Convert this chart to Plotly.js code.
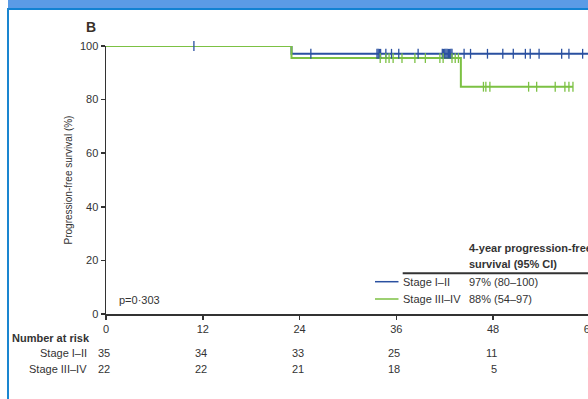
<!DOCTYPE html>
<html><head><meta charset="utf-8">
<script src="https://cdn.plot.ly/plotly-3.0.1.min.js"></script>
<style>
html,body{margin:0;padding:0;overflow:hidden;background:#fff;width:588px;height:399px;}
#chart{position:absolute;left:0;top:0;}
.band{position:absolute;left:8px;top:0;width:600px;height:8px;background:#5b9be6;border-bottom:2px solid #1282d2;}
.vline{position:absolute;left:7px;top:8px;width:2px;height:400px;background:#1a86d0;}
</style></head><body>
<div id="chart"></div>
<div class="band"></div><div class="vline"></div>
<script>
// Kaplan-Meier step data (months, % progression-free)
const blueT = [0, 23.0, 64];
const blueS = [100, 97.1, 97.1];
const greenT = [0, 23.0, 44.0, 57.9];
const greenS = [100, 95.5, 84.8, 84.8];
// censoring times
const blueCens = [10.9, 25.4, 33.6, 33.75, 33.9, 34.05, 34.7, 35.4, 36.3, 38.7,
  41.7, 41.85, 42.0, 42.15, 42.3, 42.45, 42.6, 42.75, 42.9, 44.4, 45.2, 47.3,
  49.2, 50.5, 52.0, 52.6, 53.7, 56.5, 57.4, 59.1];
const greenCens = [34.0, 34.7, 35.1, 35.6, 36.7, 38.3, 39.6, 41.4, 41.8, 42.9, 43.3, 43.7,
  46.8, 47.1, 47.6, 52.4, 53.4, 55.7, 56.9, 57.4, 57.9];
// axis ticks
const xTicks = [0, 12, 24, 36, 48, 60];
const yTicks = [0, 20, 40, 60, 80, 100];
// number at risk
const riskTimes = [0, 12, 24, 36, 48, 60];
const riskStageI = [35, 34, 33, 25, 11, 0];
const riskStageIII = [22, 22, 21, 18, 5, 0];
// legend table
const groups = ['Stage I–II', 'Stage III–IV'];
const pfs4y = ['97% (80–100)', '88% (54–97)'];
const pValue = 'p=0·303';

const BLUE = '#2a50a0', GREEN = '#7cc143', TXT = '#333333', AX = '#333333';
const FONT = 'Liberation Sans, Arial, sans-serif';

function survAt(T, S, t) { let v = S[0]; for (let i = 0; i < T.length; i++) { if (T[i] <= t) v = S[i]; } return v; }

const W = 640, H = 399, ML = 106, MT = 46, MB = 85;
const PW = W - ML, PH = H - MT - MB;
const px2x = p => (p - ML) / PW;
const px2y = p => (H - MB - p) / PH;

const traces = [
  {x: blueT, y: blueS, mode: 'lines', line: {shape: 'hv', color: BLUE, width: 2}, cliponaxis: false, hoverinfo: 'skip'},
  {x: greenT, y: greenS, mode: 'lines', line: {shape: 'hv', color: GREEN, width: 2}, cliponaxis: false, hoverinfo: 'skip'},
  {x: blueCens, y: blueCens.map(t => survAt(blueT, blueS, t)), mode: 'markers', cliponaxis: false,
   marker: {symbol: 'line-ns-open', size: 7, color: BLUE, line: {color: BLUE, width: 1.3}}},
  {x: greenCens, y: greenCens.map(t => survAt(greenT, greenS, t)), mode: 'markers', cliponaxis: false,
   marker: {symbol: 'line-ns-open', size: 7, color: GREEN, line: {color: GREEN, width: 1.3}}}
];

const ann = [];
const shapes = [];
ann.push({xref: 'paper', yref: 'paper', x: px2x(91), y: px2y(27), text: '<b>B</b>', showarrow: false,
  xanchor: 'center', yanchor: 'middle', font: {family: FONT, size: 14, color: '#3a3028'}});
ann.push({xref: 'paper', yref: 'paper', x: px2x(117), y: px2y(300), text: pValue, showarrow: false,
  xanchor: 'left', yanchor: 'middle', font: {family: FONT, size: 11, color: TXT}});
ann.push({xref: 'paper', yref: 'paper', x: px2x(467), y: px2y(247.5), text: '<b>4-year progression-free</b>', showarrow: false,
  xanchor: 'left', yanchor: 'middle', font: {family: FONT, size: 11, color: TXT}});
ann.push({xref: 'paper', yref: 'paper', x: px2x(467), y: px2y(264), text: '<b>survival (95% CI)</b>', showarrow: false,
  xanchor: 'left', yanchor: 'middle', font: {family: FONT, size: 11, color: TXT}});
shapes.push({type: 'line', xref: 'paper', yref: 'paper', x0: px2x(402.7), x1: px2x(650), y0: px2y(273.3), y1: px2y(273.3),
  line: {color: AX, width: 2}});
const legY = [281.7, 299];
const legC = [BLUE, GREEN];
groups.forEach((g, i) => {
  shapes.push({type: 'line', xref: 'paper', yref: 'paper', x0: px2x(375), x1: px2x(398.5), y0: px2y(legY[i]), y1: px2y(legY[i]),
    line: {color: legC[i], width: 1.5}});
  ann.push({xref: 'paper', yref: 'paper', x: px2x(401), y: px2y(legY[i]), text: g, showarrow: false,
    xanchor: 'left', yanchor: 'middle', font: {family: FONT, size: 11, color: TXT}});
  ann.push({xref: 'paper', yref: 'paper', x: px2x(467), y: px2y(legY[i]), text: pfs4y[i], showarrow: false,
    xanchor: 'left', yanchor: 'middle', font: {family: FONT, size: 11, color: TXT}});
});
ann.push({xref: 'paper', yref: 'paper', x: px2x(10), y: px2y(337.5), text: '<b>Number at risk</b>', showarrow: false,
  xanchor: 'left', yanchor: 'middle', font: {family: FONT, size: 11, color: TXT}});
const riskY = [353.3, 369];
const riskRows = [riskStageI, riskStageIII];
groups.forEach((g, i) => {
  ann.push({xref: 'paper', yref: 'paper', x: px2x(89), y: px2y(riskY[i]), text: g, showarrow: false,
    xanchor: 'right', yanchor: 'middle', font: {family: FONT, size: 11, color: TXT}});
  riskTimes.forEach((t, j) => {
    ann.push({xref: 'x', yref: 'paper', x: t, xshift: 6, y: px2y(riskY[i]), text: String(riskRows[i][j]), showarrow: false,
      xanchor: 'right', yanchor: 'middle', font: {family: FONT, size: 11, color: TXT}});
  });
});

const axisCommon = {showline: true, linecolor: AX, linewidth: 1.5, ticks: 'outside', ticklen: 4, tickwidth: 1.5,
  tickcolor: AX, showgrid: false, zeroline: false, tickfont: {family: FONT, size: 11, color: TXT}, fixedrange: true};

const layout = {
  width: W, height: H, margin: {l: ML, r: 0, t: MT, b: MB},
  paper_bgcolor: 'rgba(0,0,0,0)', plot_bgcolor: 'rgba(0,0,0,0)', showlegend: false,
  xaxis: Object.assign({}, axisCommon, {range: [0, PW / 8.065], tickvals: xTicks, ticktext: xTicks.map(String)}),
  yaxis: Object.assign({}, axisCommon, {range: [0, 100], tickvals: yTicks, ticktext: yTicks.map(String),
    title: {text: 'Progression-free survival (%)', font: {family: FONT, size: 10, color: TXT}, standoff: 5}}),
  annotations: ann, shapes: shapes
};
Plotly.newPlot('chart', traces, layout, {displayModeBar: false, staticPlot: true});
</script>
</body></html>
